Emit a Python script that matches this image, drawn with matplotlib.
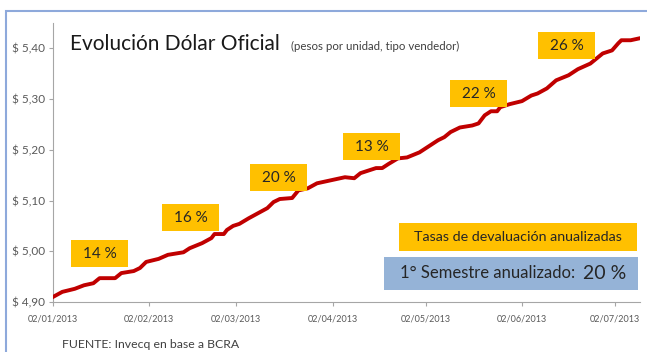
import matplotlib
matplotlib.use('Agg')
import matplotlib.pyplot as plt
import matplotlib.patches as patches
import pandas as pd

plt.rcParams['font.family'] = ['Lato', 'DejaVu Sans']

# datos (fecha, pesos por dólar)
fechas = ['02/01/2013', '05/01/2013', '09/01/2013', '12/01/2013', '15/01/2013', '17/01/2013',
          '22/01/2013', '24/01/2013', '28/01/2013', '30/01/2013', '01/02/2013', '05/02/2013',
          '08/02/2013', '13/02/2013', '15/02/2013', '19/02/2013', '22/02/2013', '23/02/2013',
          '26/02/2013', '27/02/2013', '01/03/2013', '03/03/2013', '06/03/2013', '09/03/2013',
          '12/03/2013', '14/03/2013', '16/03/2013', '20/03/2013', '22/03/2013', '25/03/2013',
          '28/03/2013', '03/04/2013', '06/04/2013', '09/04/2013', '11/04/2013', '16/04/2013',
          '18/04/2013', '20/04/2013', '23/04/2013', '26/04/2013', '30/04/2013', '03/05/2013',
          '06/05/2013', '08/05/2013', '10/05/2013', '13/05/2013', '17/05/2013', '19/05/2013',
          '21/05/2013', '23/05/2013', '25/05/2013', '26/05/2013', '29/05/2013', '02/06/2013',
          '05/06/2013', '07/06/2013', '10/06/2013', '13/06/2013', '17/06/2013', '20/06/2013',
          '24/06/2013', '26/06/2013', '28/06/2013', '01/07/2013', '03/07/2013', '04/07/2013',
          '07/07/2013', '10/07/2013']
valores = [4.910, 4.920, 4.926, 4.933, 4.937, 4.947,
           4.947, 4.957, 4.961, 4.967, 4.979, 4.985,
           4.993, 4.998, 5.006, 5.016, 5.026, 5.034,
           5.034, 5.042, 5.050, 5.054, 5.065, 5.075,
           5.085, 5.097, 5.103, 5.105, 5.120, 5.124,
           5.134, 5.142, 5.146, 5.144, 5.154, 5.164,
           5.164, 5.172, 5.183, 5.185, 5.195, 5.207,
           5.219, 5.225, 5.235, 5.244, 5.248, 5.252,
           5.268, 5.276, 5.276, 5.284, 5.290, 5.296,
           5.307, 5.311, 5.321, 5.337, 5.347, 5.359,
           5.370, 5.380, 5.390, 5.396, 5.410, 5.416,
           5.416, 5.420]

ticks_x = ['02/01/2013', '02/02/2013', '02/03/2013', '02/04/2013',
           '02/05/2013', '02/06/2013', '02/07/2013']
ticks_y = [4.90, 5.00, 5.10, 5.20, 5.30, 5.40]
tasas = ['14 %', '16 %', '20 %', '13 %', '22 %', '26 %']

W, H = 647, 352
fig = plt.figure(figsize=(W / 100, H / 100), dpi=100)
ax = fig.add_axes([53 / W, 1 - 302 / H, (640 - 53) / W, (302 - 23) / H])

fx = pd.to_datetime(fechas, format='%d/%m/%Y')
ax.plot(fx, valores, color='#C00000', lw=2.8, solid_joinstyle='round', zorder=3)

tx = pd.to_datetime(ticks_x, format='%d/%m/%Y')
ax.set_xticks(tx)
ax.set_xticklabels(ticks_x)
ax.set_xlim(tx[0], pd.Timestamp('2013-07-10'))
ax.set_yticks(ticks_y)
ax.set_yticklabels(['$ ' + f'{v:.2f}'.replace('.', ',') for v in ticks_y])
ax.set_ylim(4.90, 5.45)

for s in ['top', 'right']:
    ax.spines[s].set_visible(False)
for s in ['left', 'bottom']:
    ax.spines[s].set_color('#a6a6a6')
    ax.spines[s].set_linewidth(0.8)
ax.tick_params(axis='both', colors='#a6a6a6', length=3, width=0.8, labelcolor='#595959')
ax.tick_params(axis='x', labelsize=6.5, pad=6)
ax.tick_params(axis='y', labelsize=8.5, pad=3)


# helper: caja en coordenadas de pixel (x izq, y arriba, ancho, alto)
def caja(x, y, w, h, color):
    r = patches.Rectangle((x / W, 1 - (y + h) / H), w / W, h / H, transform=fig.transFigure,
                          facecolor=color, edgecolor='none', zorder=5)
    fig.patches.append(r)
    return (x + w / 2) / W, 1 - (y + h / 2) / H


# marco azul
fig.patches.append(patches.Rectangle((6 / W, -0.05), 1.0, 1 - 11 / H + 0.05, transform=fig.transFigure,
                                     facecolor='none', edgecolor='#8EA9DB', lw=1.5, zorder=0))

# titulo
fig.text(70 / W, 1 - 50 / H, 'Evolución Dólar Oficial', fontsize=15, color='#1a1a1a',
         va='baseline', ha='left')
fig.text(291 / W, 1 - 50 / H, '(pesos por unidad, tipo vendedor)', fontsize=8.3, color='#404040',
         va='baseline', ha='left')

# cajas de tasas
pos_cajas = [(71, 240), (162, 204), (250, 164), (343, 133), (450, 80), (538, 32)]
for t, (x, y) in zip(tasas, pos_cajas):
    cx, cy = caja(x, y, 57, 27, '#FFC000')
    fig.text(cx, cy, t, fontsize=11, color='#262626', ha='center', va='center', zorder=6)

cx, cy = caja(399, 223, 238, 28, '#FFC000')
fig.text(cx, cy, 'Tasas de devaluación anualizadas', fontsize=10.3, color='#262626',
         ha='center', va='center', zorder=6)

cx, cy = caja(384, 257, 254, 33, '#95B3D7')
fig.text(400 / W, cy, '1° Semestre anualizado:', fontsize=12, color='#262626',
         ha='left', va='center', zorder=6)
fig.text(583 / W, cy, '20 %', fontsize=14, color='#262626',
         ha='left', va='center', zorder=6)

fig.text(62 / W, 1 - 345 / H, 'FUENTE: Invecq en base a BCRA', fontsize=8.8, color='#404040',
         ha='left', va='center')

fig.savefig('out.png', dpi=100)
